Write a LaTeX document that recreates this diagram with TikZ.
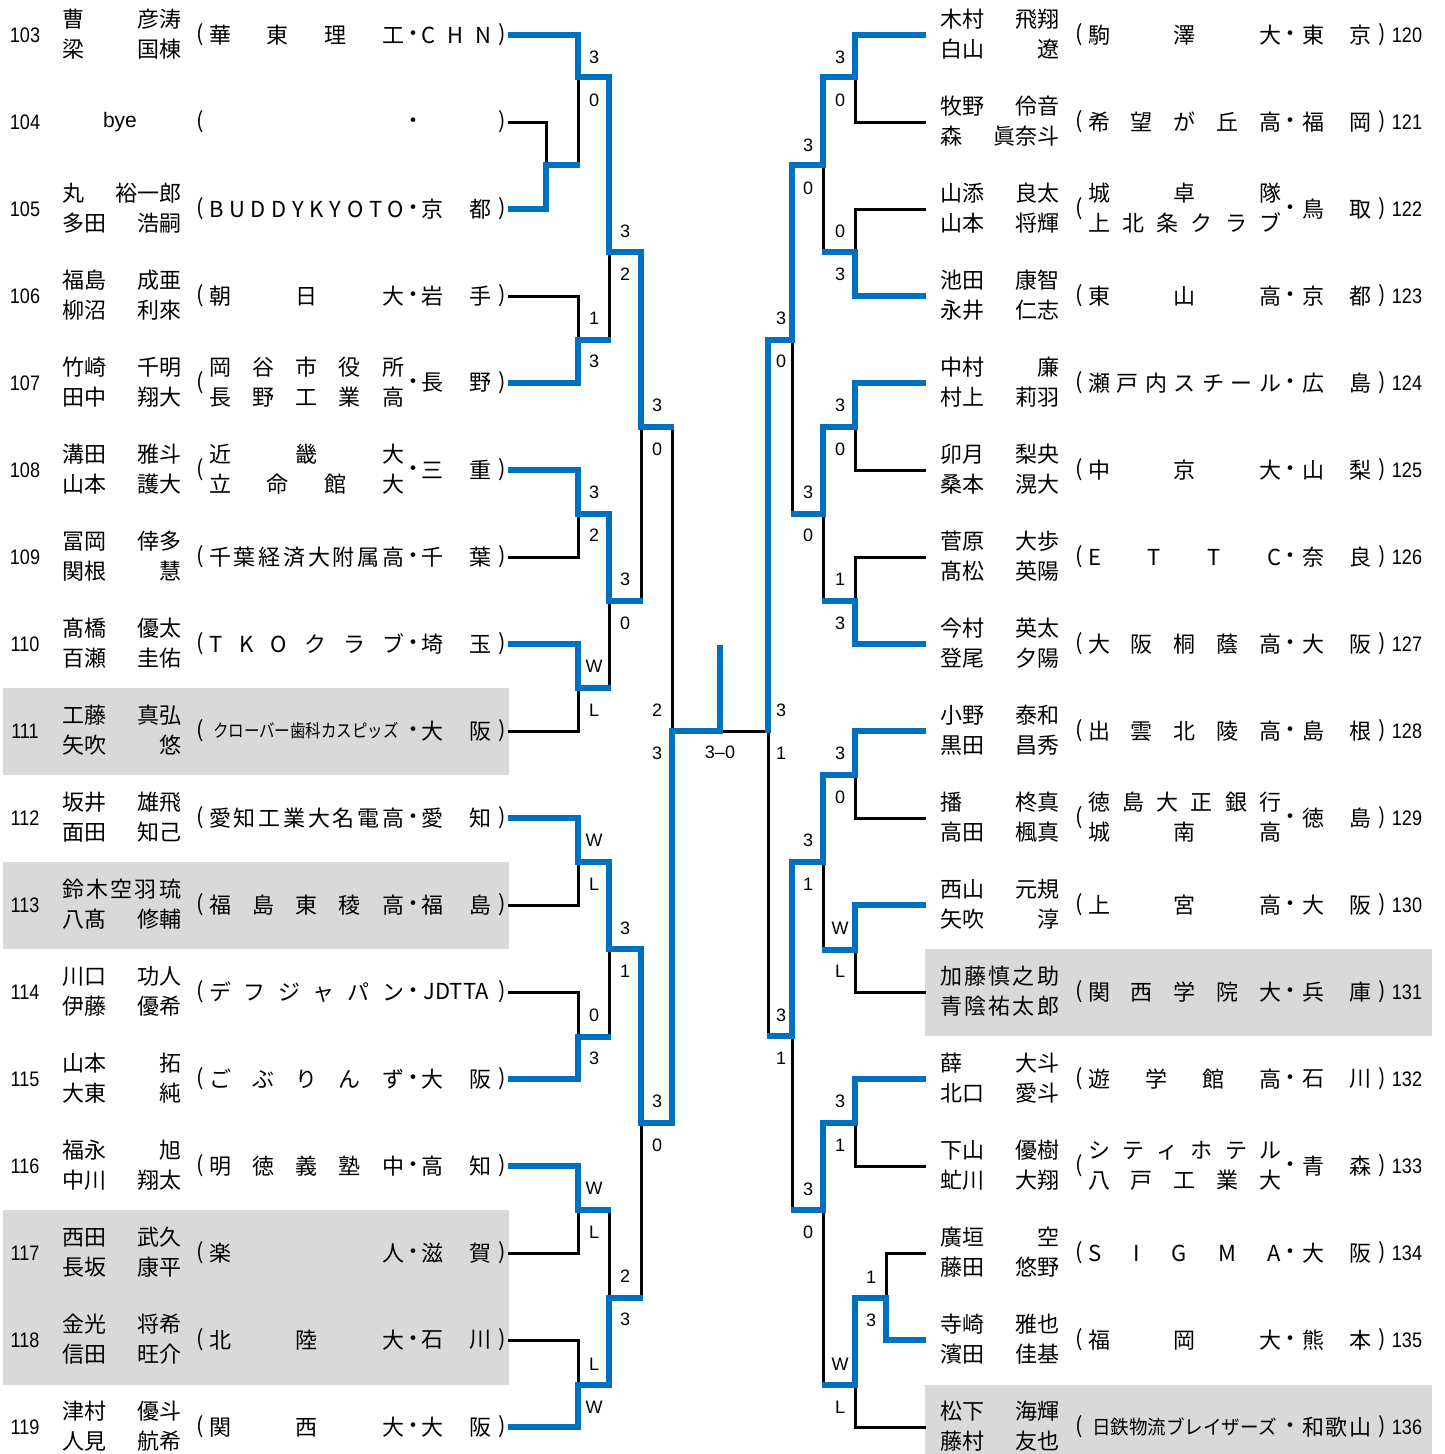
\documentclass[tikz,border=0pt]{standalone}
\usepackage{fontspec}
\usepackage{graphicx}
\setmainfont{Noto Sans CJK JP}
\newfontfamily\numf{Liberation Sans}[FakeStretch=0.86]
\newfontfamily\latf{Liberation Sans}
\definecolor{bblue}{HTML}{0070C0}
\definecolor{shadegray}{HTML}{D9D9D9}
\def\spreadaux#1#2\relax{#1\ifx\relax#2\relax\else\hfill\spreadaux#2\relax\fi}
\newcommand\spread[1]{\spreadaux#1\relax}
\tikzset{
  win/.style={draw=bblue, line width=6.5pt, line join=miter},
  lose/.style={draw=black, line width=3pt, line join=miter},
  jptxt/.style={inner sep=0pt, font=\fontsize{22}{26}\selectfont},
  nametxt/.style={jptxt, anchor=west},
  numtxt/.style={inner sep=0pt, font=\numf\fontsize{21}{24}\selectfont},
  scorelbl/.style={inner sep=0pt, font=\latf\fontsize{18}{20}\selectfont},
  shadebox/.style={fill=shadegray, draw=none},
}
\newcommand\Lrow[6]{%
  \node[numtxt] (num#2) at (25,#1) {#2};
  \node[nametxt] (na#2) at (62,#1-15.5) {\makebox[119pt]{#3}};
  \node[nametxt] (nb#2) at (62,#1+14) {\makebox[119pt]{#4}};
  \node[jptxt] (lp#2) at (200,#1) {(};
  \if\relax\detokenize{#5}\relax\else
    \node[nametxt] (cl#2) at (209,#1) {\makebox[195pt]{#5}};\fi
  \node[jptxt] (dt#2) at (413,#1+1) {・};
  \node[nametxt] (pf#2) at (421,#1) {\makebox[70pt]{#6}};
  \node[jptxt] (rp#2) at (502,#1) {)};
}
\newcommand\Rrow[6]{%
  \node[numtxt] (num#2) at (1407,#1) {#2};
  \node[nametxt] (na#2) at (940,#1-15.5) {\makebox[119pt]{#3}};
  \node[nametxt] (nb#2) at (940,#1+14) {\makebox[119pt]{#4}};
  \node[jptxt] (lp#2) at (1079,#1) {(};
  \if\relax\detokenize{#5}\relax\else
    \node[nametxt] (cl#2) at (1088,#1) {\makebox[193pt]{#5}};\fi
  \node[jptxt] (dt#2) at (1290,#1+1) {・};
  \node[nametxt] (pf#2) at (1302,#1) {\makebox[69pt]{#6}};
  \node[jptxt] (rp#2) at (1382,#1) {)};
}
\begin{document}
\begin{tikzpicture}[x=1pt,y=-1pt]
\useasboundingbox (0,0) rectangle (1444,1454);
% shaded rows
\fill[shadebox] (3,688) rectangle (509,775);
\fill[shadebox] (3,862) rectangle (509,949);
\fill[shadebox] (3,1210) rectangle (509,1385);
\fill[shadebox] (925,949) rectangle (1432,1036);
\fill[shadebox] (925,1385) rectangle (1432,1454);

% entry points
\coordinate (e103) at (508,35);   \coordinate (e104) at (508,122);
\coordinate (e105) at (508,209);  \coordinate (e106) at (508,296);
\coordinate (e107) at (508,383);  \coordinate (e108) at (508,470);
\coordinate (e109) at (508,557);  \coordinate (e110) at (508,644);
\coordinate (e111) at (508,731);  \coordinate (e112) at (508,818);
\coordinate (e113) at (508,905);  \coordinate (e114) at (508,992);
\coordinate (e115) at (508,1079); \coordinate (e116) at (508,1166);
\coordinate (e117) at (508,1253); \coordinate (e118) at (508,1340);
\coordinate (e119) at (508,1427);
\coordinate (e120) at (926,35);   \coordinate (e121) at (926,122);
\coordinate (e122) at (926,209);  \coordinate (e123) at (926,296);
\coordinate (e124) at (926,383);  \coordinate (e125) at (926,470);
\coordinate (e126) at (926,557);  \coordinate (e127) at (926,644);
\coordinate (e128) at (926,731);  \coordinate (e129) at (926,818);
\coordinate (e130) at (926,905);  \coordinate (e131) at (926,992);
\coordinate (e132) at (926,1079); \coordinate (e133) at (926,1166);
\coordinate (e134) at (926,1253); \coordinate (e135) at (926,1340);
\coordinate (e136) at (926,1427);
% match points (left)
\coordinate (mA) at (546,165);  \coordinate (mB) at (578,77);
\coordinate (mC) at (578,340);  \coordinate (mD) at (609,252);
\coordinate (mE) at (578,514);  \coordinate (mF) at (578,688);
\coordinate (mG) at (609,601);  \coordinate (mH) at (641,427);
\coordinate (mI) at (578,862);  \coordinate (mJ) at (578,1037);
\coordinate (mK) at (609,949);  \coordinate (mL) at (578,1210);
\coordinate (mM) at (578,1385); \coordinate (mN) at (609,1298);
\coordinate (mO) at (641,1123); \coordinate (mLF) at (672,731);
\coordinate (mF0) at (720,731); \coordinate (champ) at (720,645);
% match points (right)
\coordinate (mP) at (855,77);   \coordinate (mQ) at (855,252);
\coordinate (mR) at (823,165);  \coordinate (mS) at (855,427);
\coordinate (mT) at (855,601);  \coordinate (mU) at (823,514);
\coordinate (mV) at (792,340);  \coordinate (mW) at (855,775);
\coordinate (mX) at (855,950);  \coordinate (mY) at (823,862);
\coordinate (mZa) at (855,1123); \coordinate (mZb) at (886,1298);
\coordinate (mZc) at (855,1385); \coordinate (mZ) at (823,1210);
\coordinate (mQt) at (792,1036); \coordinate (mRF) at (768,731);

% losing lines
\draw[lose] (e104) -| (mA);
\draw[lose] (mA -| mB) -- (mB);
\draw[lose] (e106) -| (mC);
\draw[lose] (mC -| mD) -- (mD);
\draw[lose] (e109) -| (mE);
\draw[lose] (e111) -| (mF);
\draw[lose] (mF -| mG) -- (mG);
\draw[lose] (mG -| mH) -- (mH);
\draw[lose] (mH -| mLF) -- (mLF);
\draw[lose] (e113) -| (mI);
\draw[lose] (e114) -| (mJ);
\draw[lose] (mJ -| mK) -- (mK);
\draw[lose] (e117) -| (mL);
\draw[lose] (e118) -| (mM);
\draw[lose] (mL -| mN) -- (mN);
\draw[lose] (mN -| mO) -- (mO);
\draw[lose] (mRF) -- (mF0);
\draw[lose] (e121) -| (mP);
\draw[lose] (e122) -| (mQ);
\draw[lose] (mQ -| mR) -- (mR);
\draw[lose] (e125) -| (mS);
\draw[lose] (e126) -| (mT);
\draw[lose] (mT -| mU) -- (mU);
\draw[lose] (mU -| mV) -- (mV);
\draw[lose] (e129) -| (mW);
\draw[lose] (e131) -| (mX);
\draw[lose] (mX -| mY) -- (mY);
\draw[lose] (mQt -| mRF) -- (mRF);
\draw[lose] (e133) -| (mZa);
\draw[lose] (e134) -| (mZb);
\draw[lose] (e136) -| (mZc);
\draw[lose] (mZc -| mZ) -- (mZ);
\draw[lose] (mZ -| mQt) -- (mQt);

% winning lines
\begin{scope}[shorten >=-1.5pt]
\draw[win] (e103) -| (mB) -| (mD) -| (mH) -- (mH -| mLF);
\draw[win] (e105) -| (mA) -- (mA -| mB);
\draw[win] (e107) -| (mC) -- (mC -| mD);
\draw[win] (e108) -| (mE) -| (mG) -- (mG -| mH);
\draw[win] (e110) -| (mF) -- (mF -| mG);
\draw[win] (e115) -| (mJ) -- (mJ -| mK);
\draw[win] (e116) -| (mL) -- (mL -| mN);
\draw[win] (e119) -| (mM) -| (mN) -- (mN -| mO);
\draw[win] (e120) -| (mP) -| (mR) -| (mV) -| (mRF);
\draw[win] (e123) -| (mQ) -- (mQ -| mR);
\draw[win] (e124) -| (mS) -| (mU) -- (mU -| mV);
\draw[win] (e127) -| (mT) -- (mT -| mU);
\draw[win] (e128) -| (mW) -| (mY) -| (mQt) -- (mQt -| mRF);
\draw[win] (e130) -| (mX) -- (mX -| mY);
\draw[win] (e132) -| (mZa) -| (mZ) -- (mZ -| mQt);
\draw[win] (e135) -| (mZb) -| (mZc) -- (mZc -| mZ);
\end{scope}
\draw[win] (e112) -| (mI) -| (mK) -| (mO) -| (mLF) -- (mF0) -- (champ);

% scores left
\node[scorelbl] (sB1) at (594,57) {3};   \node[scorelbl] (sB2) at (594,100) {0};
\node[scorelbl] (sC1) at (594,318) {1};  \node[scorelbl] (sC2) at (594,361) {3};
\node[scorelbl] (sD1) at (625,231) {3};  \node[scorelbl] (sD2) at (625,274) {2};
\node[scorelbl] (sE1) at (594,492) {3};  \node[scorelbl] (sE2) at (594,535) {2};
\node[scorelbl] (sF1) at (594,666) {W};  \node[scorelbl] (sF2) at (594,710) {L};
\node[scorelbl] (sG1) at (625,579) {3};  \node[scorelbl] (sG2) at (625,623) {0};
\node[scorelbl] (sH1) at (657,405) {3};  \node[scorelbl] (sH2) at (657,449) {0};
\node[scorelbl] (sI1) at (594,840) {W};  \node[scorelbl] (sI2) at (594,884) {L};
\node[scorelbl] (sJ1) at (594,1015) {0}; \node[scorelbl] (sJ2) at (594,1058) {3};
\node[scorelbl] (sK1) at (625,928) {3};  \node[scorelbl] (sK2) at (625,971) {1};
\node[scorelbl] (sL1) at (594,1188) {W}; \node[scorelbl] (sL2) at (594,1232) {L};
\node[scorelbl] (sM1) at (594,1364) {L}; \node[scorelbl] (sM2) at (594,1407) {W};
\node[scorelbl] (sN1) at (625,1276) {2}; \node[scorelbl] (sN2) at (625,1319) {3};
\node[scorelbl] (sO1) at (657,1101) {3}; \node[scorelbl] (sO2) at (657,1145) {0};
\node[scorelbl] (sLF1) at (657,710) {2}; \node[scorelbl] (sLF2) at (657,753) {3};
\node[scorelbl] (sFin) at (720,752) {3–0};
% scores right
\node[scorelbl] (sRF1) at (781,710) {3}; \node[scorelbl] (sRF2) at (781,753) {1};
\node[scorelbl] (sP1) at (840,57) {3};   \node[scorelbl] (sP2) at (840,100) {0};
\node[scorelbl] (sQ1) at (840,231) {0};  \node[scorelbl] (sQ2) at (840,274) {3};
\node[scorelbl] (sR1) at (808,145) {3};  \node[scorelbl] (sR2) at (808,188) {0};
\node[scorelbl] (sS1) at (840,405) {3};  \node[scorelbl] (sS2) at (840,449) {0};
\node[scorelbl] (sT1) at (840,579) {1};  \node[scorelbl] (sT2) at (840,623) {3};
\node[scorelbl] (sU1) at (808,492) {3};  \node[scorelbl] (sU2) at (808,535) {0};
\node[scorelbl] (sV1) at (781,318) {3};  \node[scorelbl] (sV2) at (781,361) {0};
\node[scorelbl] (sW1) at (840,753) {3};  \node[scorelbl] (sW2) at (840,797) {0};
\node[scorelbl] (sX1) at (840,928) {W};  \node[scorelbl] (sX2) at (840,971) {L};
\node[scorelbl] (sY1) at (808,840) {3};  \node[scorelbl] (sY2) at (808,884) {1};
\node[scorelbl] (sQt1) at (781,1015) {3}; \node[scorelbl] (sQt2) at (781,1058) {1};
\node[scorelbl] (sZa1) at (840,1101) {3}; \node[scorelbl] (sZa2) at (840,1145) {1};
\node[scorelbl] (sZb1) at (871,1277) {1}; \node[scorelbl] (sZb2) at (871,1320) {3};
\node[scorelbl] (sZc1) at (840,1364) {W}; \node[scorelbl] (sZc2) at (840,1407) {L};
\node[scorelbl] (sZ1) at (808,1189) {3};  \node[scorelbl] (sZ2) at (808,1232) {0};

% left entries
\Lrow{35}{103}{曹\hfill 彦涛}{梁\hfill 国棟}{\spread{華東理工}}{\spread{CHN}}
\node[numtxt] (num104) at (25,122) {104};
\node[inner sep=0pt, font=\latf\fontsize{21}{24}\selectfont] (bye104) at (120,122) {bye};
\node[jptxt] (lp104) at (200,122) {(};
\node[jptxt] (dt104) at (413,123) {・};
\node[jptxt] (rp104) at (502,122) {)};
\Lrow{209}{105}{丸\hfill 裕一郎}{多田\hfill 浩嗣}{\spread{BUDDYKYOTO}}{\spread{京都}}
\Lrow{296}{106}{福島\hfill 成亜}{柳沼\hfill 利來}{\spread{朝日大}}{\spread{岩手}}
\Lrow{383}{107}{竹崎\hfill 千明}{田中\hfill 翔大}{}{\spread{長野}}
\node[nametxt] (cl107a) at (209,383-15.5) {\makebox[195pt]{\spread{岡谷市役所}}};
\node[nametxt] (cl107b) at (209,383+14) {\makebox[195pt]{\spread{長野工業高}}};
\Lrow{470}{108}{溝田\hfill 雅斗}{山本\hfill 護大}{}{\spread{三重}}
\node[nametxt] (cl108a) at (209,470-15.5) {\makebox[195pt]{\spread{近畿大}}};
\node[nametxt] (cl108b) at (209,470+14) {\makebox[195pt]{\spread{立命館大}}};
\Lrow{557}{109}{冨岡\hfill 倖多}{関根\hfill 慧}{\spread{千葉経済大附属高}}{\spread{千葉}}
\Lrow{644}{110}{髙橋\hfill 優太}{百瀬\hfill 圭佑}{\spread{TKOクラブ}}{\spread{埼玉}}
\Lrow{731}{111}{工藤\hfill 真弘}{矢吹\hfill 悠}{}{\spread{大阪}}
\node[nametxt] (cl111) at (213,731) {\scalebox{0.86}[1]{\fontsize{18}{20}\selectfont クローバー歯科カスピッズ}};
\Lrow{818}{112}{坂井\hfill 雄飛}{面田\hfill 知己}{\spread{愛知工業大名電高}}{\spread{愛知}}
\Lrow{905}{113}{\spread{鈴木空羽琉}}{八髙\hfill 修輔}{\spread{福島東稜高}}{\spread{福島}}
\Lrow{992}{114}{川口\hfill 功人}{伊藤\hfill 優希}{\spread{デフジャパン}}{\hfill JDTTA\hfill}
\Lrow{1079}{115}{山本\hfill 拓}{大東\hfill 純}{\spread{ごぶりんず}}{\spread{大阪}}
\Lrow{1166}{116}{福永\hfill 旭}{中川\hfill 翔太}{\spread{明徳義塾中}}{\spread{高知}}
\Lrow{1253}{117}{西田\hfill 武久}{長坂\hfill 康平}{\spread{楽人}}{\spread{滋賀}}
\Lrow{1340}{118}{金光\hfill 将希}{信田\hfill 旺介}{\spread{北陸大}}{\spread{石川}}
\Lrow{1427}{119}{津村\hfill 優斗}{人見\hfill 航希}{\spread{関西大}}{\spread{大阪}}

% right entries
\Rrow{35}{120}{木村\hfill 飛翔}{白山\hfill 遼}{\spread{駒澤大}}{\spread{東京}}
\Rrow{122}{121}{牧野\hfill 伶音}{森\hfill 眞奈斗}{\spread{希望が丘高}}{\spread{福岡}}
\Rrow{209}{122}{山添\hfill 良太}{山本\hfill 将輝}{}{\spread{鳥取}}
\node[nametxt] (cl122a) at (1088,209-15.5) {\makebox[193pt]{\spread{城卓隊}}};
\node[nametxt] (cl122b) at (1088,209+14) {\makebox[193pt]{\spread{上北条クラブ}}};
\Rrow{296}{123}{池田\hfill 康智}{永井\hfill 仁志}{\spread{東山高}}{\spread{京都}}
\Rrow{383}{124}{中村\hfill 廉}{村上\hfill 莉羽}{\spread{瀬戸内スチール}}{\spread{広島}}
\Rrow{470}{125}{卯月\hfill 梨央}{桑本\hfill 滉大}{\spread{中京大}}{\spread{山梨}}
\Rrow{557}{126}{菅原\hfill 大歩}{髙松\hfill 英陽}{\spread{ETTC}}{\spread{奈良}}
\Rrow{644}{127}{今村\hfill 英太}{登尾\hfill 夕陽}{\spread{大阪桐蔭高}}{\spread{大阪}}
\Rrow{731}{128}{小野\hfill 泰和}{黒田\hfill 昌秀}{\spread{出雲北陵高}}{\spread{島根}}
\Rrow{818}{129}{播\hfill 柊真}{高田\hfill 楓真}{}{\spread{徳島}}
\node[nametxt] (cl129a) at (1088,818-15.5) {\makebox[193pt]{\spread{徳島大正銀行}}};
\node[nametxt] (cl129b) at (1088,818+14) {\makebox[193pt]{\spread{城南高}}};
\Rrow{905}{130}{西山\hfill 元規}{矢吹\hfill 淳}{\spread{上宮高}}{\spread{大阪}}
\Rrow{992}{131}{\spread{加藤慎之助}}{\spread{青陰祐太郎}}{\spread{関西学院大}}{\spread{兵庫}}
\Rrow{1079}{132}{薛\hfill 大斗}{北口\hfill 愛斗}{\spread{遊学館高}}{\spread{石川}}
\Rrow{1166}{133}{下山\hfill 優樹}{虻川\hfill 大翔}{}{\spread{青森}}
\node[nametxt] (cl133a) at (1088,1166-15.5) {\makebox[193pt]{\spread{シティホテル}}};
\node[nametxt] (cl133b) at (1088,1166+14) {\makebox[193pt]{\spread{八戸工業大}}};
\Rrow{1253}{134}{廣垣\hfill 空}{藤田\hfill 悠野}{\spread{SIGMA}}{\spread{大阪}}
\Rrow{1340}{135}{寺崎\hfill 雅也}{濱田\hfill 佳基}{\spread{福岡大}}{\spread{熊本}}
\Rrow{1427}{136}{松下\hfill 海輝}{藤村\hfill 友也}{}{\spread{和歌山}}
\node[nametxt] (cl136) at (1092,1427) {\scalebox{0.95}[1]{\fontsize{19.5}{22}\selectfont 日鉄物流ブレイザーズ}};
\end{tikzpicture}
\end{document}
